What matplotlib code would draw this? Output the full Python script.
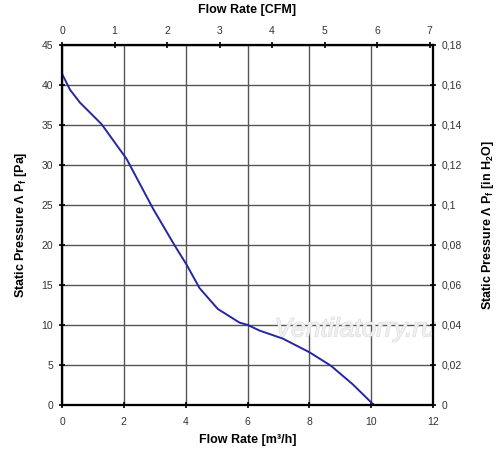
import numpy as np
import matplotlib
matplotlib.use("Agg")
from matplotlib import pyplot as plt
import matplotlib.patheffects as pe

plt.rcParams['font.family'] = ['Liberation Sans', 'DejaVu Sans']

# curve
flow_m3h = [0.0, 0.26, 0.58, 1.28, 2.09, 2.95, 3.65, 4.02, 4.45, 5.04, 5.74, 6.01, 6.39, 7.14, 8.0, 8.7, 9.4, 10.02, 10.1]
pressure_pa = [41.4, 39.4, 37.8, 35.1, 30.75, 24.5, 19.9, 17.6, 14.6, 12.0, 10.3, 10.0, 9.3, 8.3, 6.6, 4.9, 2.6, 0.25, 0.0]

x_ticks = [0, 2, 4, 6, 8, 10, 12]
y_ticks = [0, 5, 10, 15, 20, 25, 30, 35, 40, 45]
cfm_ticks = [0, 1, 2, 3, 4, 5, 6, 7]
inh2o_ticks = [0, 0.02, 0.04, 0.06, 0.08, 0.1, 0.12, 0.14, 0.16, 0.18]
inh2o_labels = ["0", "0,02", "0,04", "0,06", "0,08", "0,1", "0,12", "0,14", "0,16", "0,18"]

fig = plt.figure(figsize=(5, 4.61), dpi=100)
ax = fig.add_axes([0.124, 0.1215, 0.742, 0.781])

ax.plot(flow_m3h, pressure_pa, color="#2626a0", lw=1.4, zorder=3)
ax.set_xlim(0, 12)
ax.set_ylim(0, 45)
ax.set_xticks(x_ticks)
ax.set_yticks(y_ticks)
ax.grid(True, color="#555555", lw=1.0)
ax.set_xlabel("Flow Rate [m³/h]", fontsize=9, fontweight="bold", labelpad=5)
ax.set_ylabel("Static Pressure Λ P$_\\mathregular{f}$ [Pa]", fontsize=9, fontweight="bold", labelpad=9)

# top axis in CFM
top = ax.twiny()
top.set_xlim(0, 12 / 1.699)
top.set_xticks(cfm_ticks)
top.set_xlabel("Flow Rate [CFM]", fontsize=9, fontweight="bold", labelpad=9)

# right axis in inches of water
right = ax.twinx()
right.set_ylim(0, 0.18)
right.set_yticks(inh2o_ticks)
right.set_yticklabels(inh2o_labels)
right.set_ylabel("Static Pressure Λ P$_\\mathregular{f}$ [in H$_\\mathregular{2}$O]", fontsize=9, fontweight="bold", labelpad=13)

for a in (ax, top, right):
    a.tick_params(direction="inout", length=5, width=1.2, labelsize=7.5, labelcolor="#333333", pad=4)
    for s in a.spines.values():
        s.set_linewidth(1.5)
        s.set_color("black")
ax.tick_params(axis="x", pad=6)

ax.text(0.79, 0.21, "Ventilatorry.ru", transform=ax.transAxes, ha="center", va="center",
        fontsize=19, style="italic", color="#f0f0f0", zorder=4,
        path_effects=[pe.withStroke(linewidth=0.8, foreground="#dadada")])

fig.savefig("out.png", dpi=100)
